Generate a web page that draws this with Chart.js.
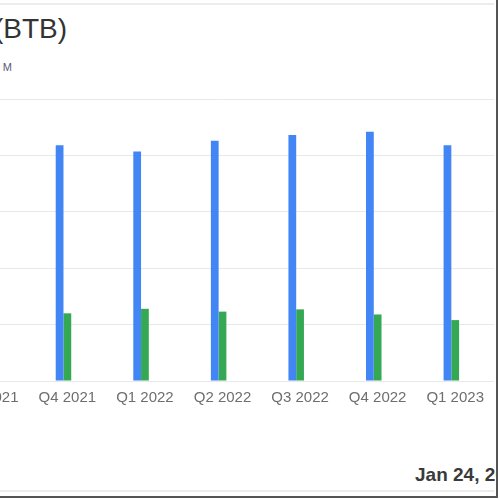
<!DOCTYPE html>
<html>
<head>
<meta charset="utf-8">
<script src="https://cdn.jsdelivr.net/npm/chart.js@4"></script>
<style>
  html, body { margin: 0; padding: 0; background: #fff; }
  body { width: 500px; height: 500px; position: relative; overflow: hidden; font-family: "Liberation Sans", Arial, sans-serif; }
  .marco { position: absolute; left: 0; top: 0; width: 496px; height: 496px; overflow: hidden;
           border-right: 2px solid #555; border-bottom: 2px solid #555; }
  .linea { position: absolute; left: 0; width: 494px; height: 2px; background: #ececec; }
  .titulo { position: absolute; right: 429px; top: 13px; white-space: nowrap; font-size: 28px; color: #333; }
  .sub { position: absolute; right: 484px; top: 61px; white-space: nowrap; font-size: 11px; color: #5a5a78; }
  .fecha { position: absolute; left: 415px; top: 464px; white-space: nowrap; font-size: 19px; font-weight: bold; color: #3a3a3a; }
  .grafica { position: absolute; left: -49px; top: 89px; width: 543px; height: 322px; }
</style>
</head>
<body>
<div class="marco">
  <div class="linea" style="top:3px"></div>
  <div class="titulo">Bit Brother Ltd (BTB)</div>
  <div class="sub">Quarterly Revenue vs Net Income, USD M</div>
  <div class="grafica"><canvas id="myChart"></canvas></div>
  <div class="fecha">Jan 24, 2024</div>
  <div class="linea" style="top:490px"></div>
</div>
<script>
const trimestres = ['Q3 2021', 'Q4 2021', 'Q1 2022', 'Q2 2022', 'Q3 2022', 'Q4 2022', 'Q1 2023']
const ingresos = [null, 4.18, 4.07, 4.26, 4.36, 4.42, 4.18]
const utilidad = [null, 1.20, 1.28, 1.23, 1.27, 1.18, 1.08]
const otros = [null, null, null, null, null, null, null]
const yMax = 5
const yPaso = 1

const ctx = document.getElementById('myChart');
new Chart(ctx, {
    type: 'bar',
    data: {
        labels: trimestres,
        datasets: [{
            label: 'Revenue',
            data: ingresos,
            backgroundColor: '#4285f4',
            categoryPercentage: 0.3,
            barPercentage: 1
        }, {
            label: 'Net Income',
            data: utilidad,
            backgroundColor: '#34a853',
            categoryPercentage: 0.3,
            barPercentage: 1
        }, {
            label: 'Other',
            data: otros,
            backgroundColor: '#fbbc04',
            categoryPercentage: 0.3,
            barPercentage: 1
        }]
    },
    options: {
        responsive: true,
        maintainAspectRatio: false,
        animation: false,
        layout: { padding: { top: 10, left: 0, right: 0, bottom: 0 } },
        plugins: { legend: { display: false }, tooltip: { enabled: false } },
        scales: {
            x: {
                grid: { display: false },
                border: { display: false },
                ticks: { color: '#6e6e6e', font: { size: 15, family: 'Liberation Sans' }, padding: 0, maxRotation: 0, autoSkip: false },
                afterFit: (s) => { s.height = 30 }
            },
            y: {
                min: 0,
                max: yMax,
                grid: { color: '#e8e8e8', drawTicks: false },
                border: { display: false },
                ticks: { display: false, stepSize: yPaso },
                afterFit: (s) => { s.width = 0 }
            }
        }
    }
});
</script>
</body>
</html>
